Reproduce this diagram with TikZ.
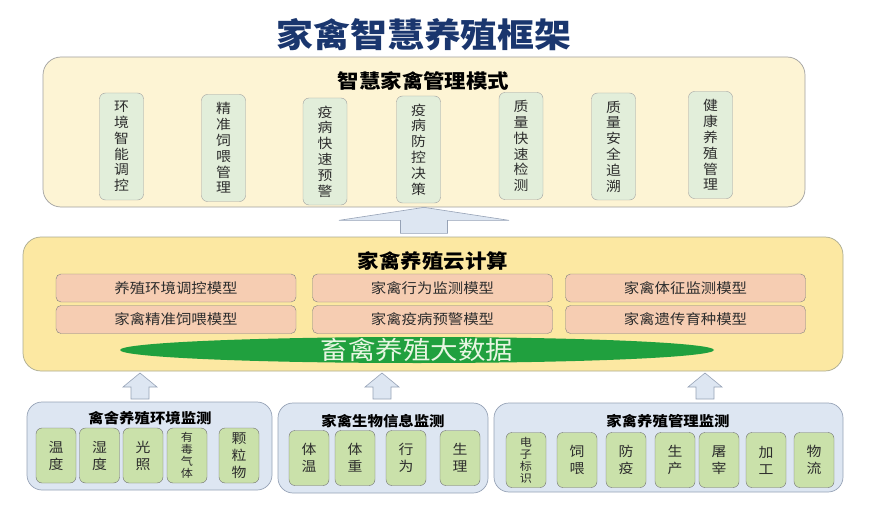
\documentclass[tikz,border=0pt]{standalone}
\usepackage{fontspec}
\setmainfont{Noto Sans CJK SC}[FakeStretch=1.1]
\usetikzlibrary{shapes.geometric}

\definecolor{titleblue}{RGB}{26,54,110}
\definecolor{topfill}{RGB}{253,244,212}
\definecolor{midfill}{RGB}{252,232,162}
\definecolor{peach}{RGB}{246,205,178}
\definecolor{vgreen}{RGB}{226,238,218}
\definecolor{lowfill}{RGB}{221,230,242}
\definecolor{lowgreen}{RGB}{202,225,170}
\definecolor{datagreen}{RGB}{32,160,62}
\definecolor{datatext}{RGB}{232,246,226}
\definecolor{edgegray}{RGB}{160,160,160}
\definecolor{arrowedge}{RGB}{150,162,182}
\definecolor{inktext}{RGB}{45,45,45}

\tikzset{
  panel/.style={draw=edgegray, line width=0.7pt, rounded corners=18pt, inner sep=0pt},
  vbox/.style={draw=edgegray, fill=vgreen, rounded corners=6pt, inner sep=0pt,
    minimum width=44pt, minimum height=107pt, align=center, text=inktext,
    font=\fontsize{13.5}{15.8}\selectfont},
  model/.style={draw=edgegray!80!black, fill=peach, rounded corners=5pt, inner sep=0pt,
    minimum width=240pt, minimum height=28pt, text=inktext,
    font=\fontsize{14}{16}\selectfont},
  sensor/.style={draw=edgegray!70!black, fill=lowgreen, rounded corners=6pt, inner sep=0pt,
    minimum width=40pt, minimum height=55pt, align=center, text=inktext,
    font=\fontsize{13.5}{17}\selectfont},
  small/.style={font=\fontsize{11}{12}\selectfont},
  head/.style={font=\fontsize{19.5}{22}\selectfont\bfseries},
  lowhead/.style={font=\fontsize{14}{16}\selectfont\bfseries},
  uparrow/.style={draw=arrowedge, fill=lowfill, line width=0.6pt, line join=miter},
}

\begin{document}
\begin{tikzpicture}[x=1pt, y=-1pt]
  \useasboundingbox (0,0) rectangle (876,516);

  % title
  \node[font=\fontsize{33.5}{36}\selectfont\bfseries, text=titleblue] (title) at (424,35) {家禽智慧养殖框架};

  % top layer
  \node[panel, fill=topfill, minimum width=762pt, minimum height=150pt] (mode) at (424,132) {};
  \node[head] (modehead) at (423.5,81) {智慧家禽管理模式};
  \node[vbox] (m1) at (121.5,146.5) {环\\境\\智\\能\\调\\控};
  \node[vbox] (m2) at (223.5,148) {精\\准\\饲\\喂\\管\\理};
  \node[vbox] (m3) at (325,151.5) {疫\\病\\快\\速\\预\\警};
  \node[vbox] (m4) at (418.5,149.5) {疫\\病\\防\\控\\决\\策};
  \node[vbox] (m5) at (521,146) {质\\量\\快\\速\\检\\测};
  \node[vbox] (m6) at (613.5,146.5) {质\\量\\安\\全\\追\\溯};
  \node[vbox] (m7) at (710.5,145) {健\\康\\养\\殖\\管\\理};

  % middle layer
  \node[panel, fill=midfill, draw=edgegray!90!yellow, minimum width=820pt, minimum height=134pt] (cloud) at (433,304) {};
  \node[head] (cloudhead) at (433,261) {家禽养殖云计算};
  \node[model] (c1) at (176,288) {养殖环境调控模型};
  \node[model] (c2) at (432.5,288) {家禽行为监测模型};
  \node[model] (c3) at (685.5,288) {家禽体征监测模型};
  \node[model] (c4) at (176,319.5) {家禽精准饲喂模型};
  \node[model] (c5) at (432.5,319.5) {家禽疫病预警模型};
  \node[model] (c6) at (685.5,319.5) {家禽遗传育种模型};
  \node[ellipse, fill=datagreen, inner sep=0pt, minimum width=594pt, minimum height=26pt] (bigdata) at (417,350) {};
  \node[font=\fontsize{25}{27}\selectfont, text=datatext] (bigdatatext) at (bigdata) {畜禽养殖大数据};

  % arrow up to the top layer
  \draw[uparrow] (mode.south) -- ++(85,13) -- ++(-61.5,0) -- ++(0,13) -- ++(-47,0)
    -- ++(0,-13) -- ++(-61.5,0) -- cycle;

  % arrows up from the monitoring layer
  \foreach \ax in {140,382,705}
    \draw[uparrow] (\ax,373) -- ++(17,14) -- ++(-8,0) -- ++(0,12) -- ++(-18,0)
      -- ++(0,-12) -- ++(-8,0) -- cycle;

  % bottom layer
  \node[panel, fill=lowfill, draw=arrowedge, rounded corners=15pt, minimum width=245pt, minimum height=88pt] (env) at (149.5,446) {};
  \node[lowhead] (envhead) at (150,418) {禽舍养殖环境监测};
  \node[sensor] (e1) at (56,455.5) {温\\度};
  \node[sensor] (e2) at (99.5,455.5) {湿\\度};
  \node[sensor] (e3) at (143,455.5) {光\\照};
  \node[sensor, small] (e4) at (187,455.5) {有\\毒\\气\\体};
  \node[sensor] (e5) at (239,455.5) {颗\\粒\\物};

  \node[panel, fill=lowfill, draw=arrowedge, rounded corners=15pt, minimum width=210pt, minimum height=90pt] (bio) at (383,448) {};
  \node[lowhead] (biohead) at (383,421) {家禽生物信息监测};
  \node[sensor] (b1) at (309,458) {体\\温};
  \node[sensor] (b2) at (355,458) {体\\重};
  \node[sensor] (b3) at (406,458) {行\\为};
  \node[sensor] (b4) at (460,458) {生\\理};

  \node[panel, fill=lowfill, draw=arrowedge, rounded corners=15pt, minimum width=349pt, minimum height=89pt] (farm) at (668.5,447.5) {};
  \node[lowhead] (farmhead) at (668,421) {家禽养殖管理监测};
  \node[sensor, small] (f1) at (526,460) {电\\子\\标\\识};
  \node[sensor] (f2) at (577,460) {饲\\喂};
  \node[sensor] (f3) at (626,460) {防\\疫};
  \node[sensor] (f4) at (675,460) {生\\产};
  \node[sensor] (f5) at (719,460) {屠\\宰};
  \node[sensor] (f6) at (766,460) {加\\工};
  \node[sensor] (f7) at (814,460) {物\\流};
\end{tikzpicture}
\end{document}
